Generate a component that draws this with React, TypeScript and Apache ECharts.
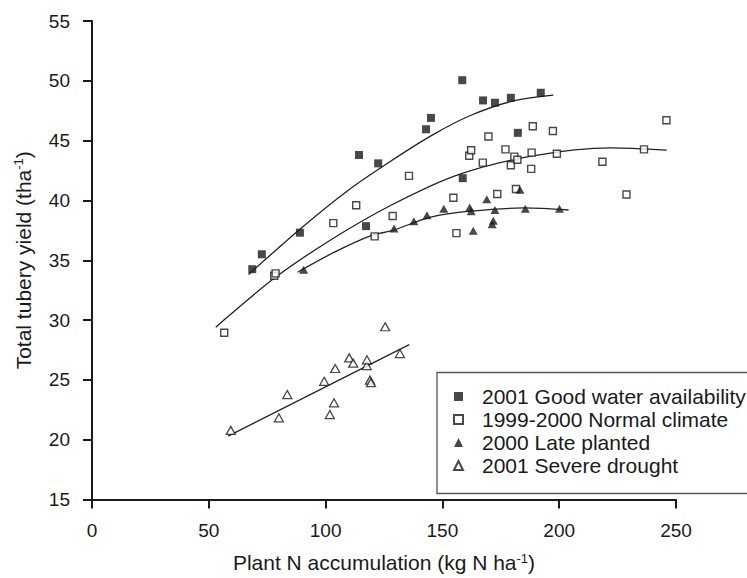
import React, { useEffect, useRef } from "react";
import * as echarts from "echarts";

// Scatter data [Plant N accumulation, Total tubery yield]
const goodWater: number[][] = [
  [68.6, 34.25], [72.7, 35.5], [89, 37.3], [114.3, 43.8], [117.3, 37.85],
  [122.5, 43.1], [143, 45.95], [145.1, 46.9], [158.5, 50.05], [158.7, 41.86],
  [167.4, 48.36], [172.5, 48.17], [179.3, 48.58], [182.3, 45.65], [192.1, 49.0],
];
const normalClimate: number[][] = [
  [56.6, 28.94], [78, 33.7], [78.6, 33.9], [103.3, 38.1], [113.1, 39.6],
  [121, 37.0], [128.7, 38.7], [135.7, 42.05], [154.7, 40.23], [156, 37.27],
  [161.5, 43.74], [162.3, 44.2], [167.3, 43.16], [169.7, 45.35], [173.5, 40.54],
  [177, 44.27], [179.3, 42.94], [180.8, 43.66], [181.5, 40.95], [182.1, 43.4],
  [188, 42.64], [188.2, 44.0], [188.7, 46.2], [197.3, 45.8], [199, 43.9],
  [218.5, 43.24], [228.8, 40.5], [236.3, 44.27], [245.9, 46.7],
];
const latePlanted: number[][] = [
  [90.6, 34.2], [129.3, 37.65], [137.8, 38.26], [143.4, 38.76], [150.6, 39.3],
  [161.7, 39.4], [162.3, 39.1], [163.2, 37.46], [169, 40.1], [171.3, 38.0],
  [171.8, 38.3], [172.5, 39.2], [183.2, 40.9], [185.5, 39.3], [200.1, 39.3],
];
const severeDrought: number[][] = [
  [59.4, 20.78], [80, 21.83], [83.6, 23.77], [99.4, 24.88], [101.8, 22.1],
  [103.6, 23.08], [104.1, 25.95], [110.1, 26.84], [111.8, 26.4], [117.6, 26.2],
  [117.7, 26.68], [119, 24.98], [119.4, 24.77], [125.5, 29.44], [131.8, 27.2],
];

// Fitted curves
const goodFit: number[][] = [
  [67, 33.8], [89, 37.6], [110, 40.9], [128, 43.3], [146, 45.5], [162, 47.1], [180, 48.3], [197.5, 48.8],
];
const normalFit: number[][] = [
  [53, 29.4], [58, 30.25], [78, 33.5], [103, 36.8], [128, 39.6], [156, 42.1], [188, 43.7], [222, 44.4], [246, 44.2],
];
const lateFit: number[][] = [
  [88, 34.0], [104, 35.7], [120, 37.1], [128, 37.45], [145, 38.6], [162, 39.1], [185, 39.37], [204, 39.2],
];
const droughtFit: number[][] = [
  [58.3, 20.3], [135.8, 27.95],
];

const seriesNames = [
  "2001 Good water availability",
  "1999-2000 Normal climate",
  "2000 Late planted",
  "2001 Severe drought",
];

const xTicks = { min: 0, max: 250, interval: 50 };
const yTicks = { min: 15, max: 55, interval: 5 };

const FONT = "'Liberation Sans', Arial, Helvetica, sans-serif";
const INK = "#1a1a1a";

export default function App() {
  const ref = useRef<HTMLDivElement>(null);
  useEffect(() => {
    document.body.style.margin = "0";
    const chart = echarts.init(ref.current!, null, { renderer: "svg" });
    const fitLine = (data: number[][]) => ({
      type: "line",
      data,
      smooth: 0.3,
      showSymbol: false,
      symbol: "none",
      silent: true,
      lineStyle: { color: "#222", width: 1.3 },
      z: 1,
    });
    chart.setOption({
      animation: false,
      backgroundColor: "#fff",
      textStyle: { fontFamily: FONT, color: INK },
      grid: { left: 92, right: 71, top: 21, bottom: 75 },
      xAxis: {
        type: "value",
        ...xTicks,
        splitLine: { show: false },
        axisLine: { lineStyle: { color: INK, width: 2 } },
        axisTick: { length: 9, lineStyle: { color: INK, width: 2 } },
        axisLabel: { margin: 21, fontSize: 19, color: INK, fontFamily: FONT },
        name: "{a|Plant N accumulation (kg N ha}{s|-1}{a|)}",
        nameLocation: "middle",
        nameGap: 52,
        nameTextStyle: {
          rich: {
            a: { fontSize: 21, color: INK, fontFamily: FONT },
            s: { fontSize: 13, color: INK, fontFamily: FONT, padding: [0, 0, 9, 0] },
          },
        },
      },
      yAxis: {
        type: "value",
        ...yTicks,
        splitLine: { show: false },
        axisLine: { lineStyle: { color: INK, width: 2 } },
        axisTick: { length: 9, lineStyle: { color: INK, width: 2 } },
        axisLabel: { margin: 22, fontSize: 19, color: INK, fontFamily: FONT },
        name: "{a|Total tubery yield (tha}{s|-1}{a|)}",
        nameLocation: "middle",
        nameGap: 58,
        nameTextStyle: {
          rich: {
            a: { fontSize: 21, color: INK, fontFamily: FONT },
            s: { fontSize: 13, color: INK, fontFamily: FONT, padding: [0, 0, 9, 0] },
          },
        },
      },
      legend: {
        data: seriesNames,
        orient: "vertical",
        left: 448,
        top: 380,
        itemWidth: 9,
        itemHeight: 9,
        itemGap: 0,
        textStyle: { fontSize: 21, color: INK, fontFamily: FONT, lineHeight: 23, padding: [0, 0, 0, 14] },
      },
      graphic: [
        {
          type: "rect",
          shape: { x: 437, y: 372.5, width: 330, height: 121 },
          style: { fill: "none", stroke: "#555", lineWidth: 1.3 },
          silent: true,
        },
      ],
      series: [
        {
          name: seriesNames[0],
          type: "scatter",
          data: goodWater,
          symbol: "rect",
          symbolSize: 8,
          itemStyle: { color: INK },
          z: 3,
        },
        {
          name: seriesNames[1],
          type: "scatter",
          data: normalClimate,
          symbol: "rect",
          symbolSize: 7,
          itemStyle: { color: "#fff", borderColor: INK, borderWidth: 1.4 },
          z: 3,
        },
        {
          name: seriesNames[2],
          type: "scatter",
          data: latePlanted,
          symbol: "triangle",
          symbolSize: [9, 8],
          itemStyle: { color: INK },
          z: 3,
        },
        {
          name: seriesNames[3],
          type: "scatter",
          data: severeDrought,
          symbol: "triangle",
          symbolSize: [9, 8],
          itemStyle: { color: "#fff", borderColor: INK, borderWidth: 1.3 },
          z: 3,
        },
        fitLine(goodFit),
        fitLine(normalFit),
        fitLine(lateFit),
        fitLine(droughtFit),
      ],
    });
    return () => chart.dispose();
  }, []);
  return <div ref={ref} style={{ width: 747, height: 578 }} />;
}
